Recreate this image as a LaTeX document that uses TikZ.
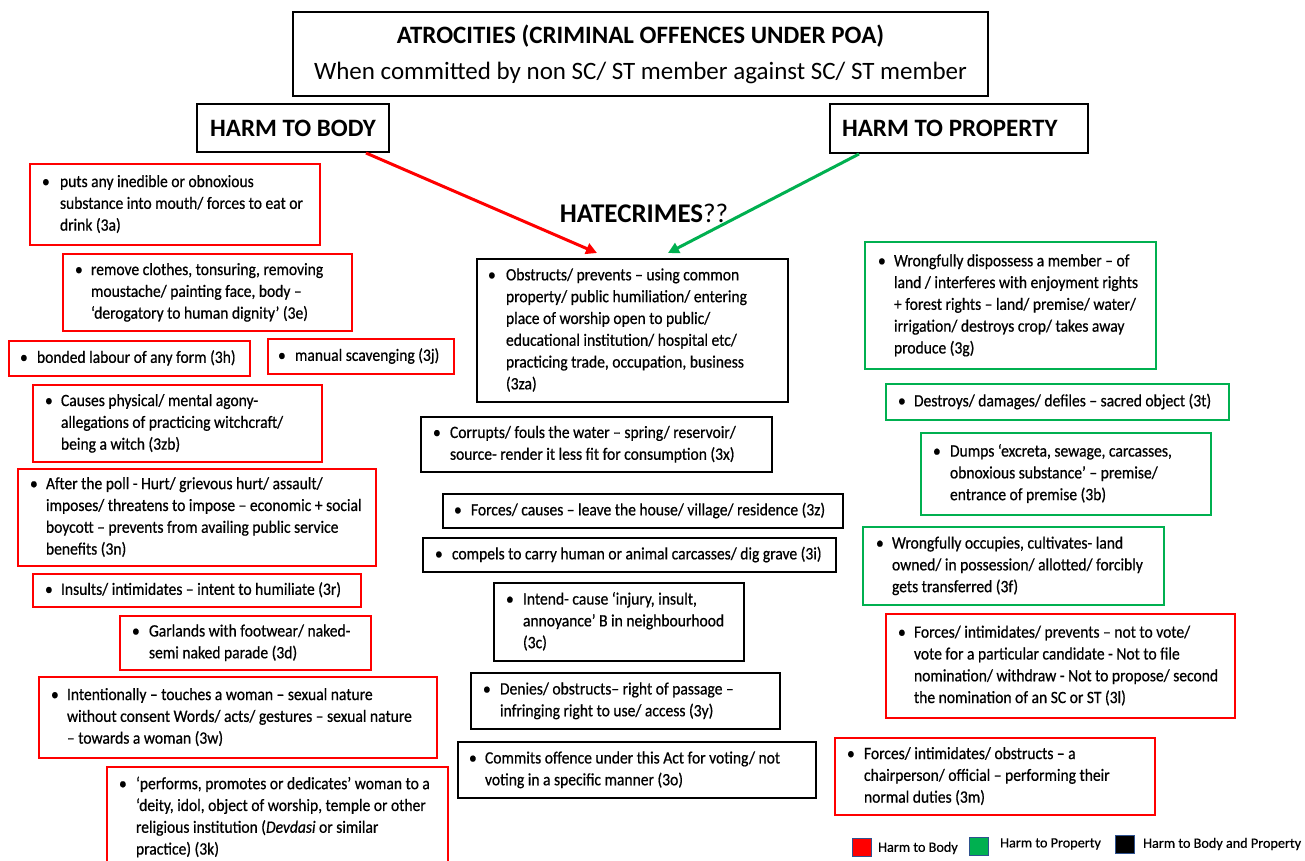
\documentclass[tikz,border=0pt]{standalone}
\usepackage{fontspec}
\setmainfont{Carlito}
\newfontfamily\itemfont{Carlito}[FakeStretch=0.9, FakeBold=0.6]
\newfontfamily\keyfont{Carlito}[FakeBold=0.5]
\usetikzlibrary{arrows.meta}

\definecolor{boxred}{HTML}{FF0000}
\definecolor{boxgreen}{HTML}{00B050}
\definecolor{keyedge}{HTML}{2F528F}

\tikzset{
  offencebox/.style={rectangle, line width=2pt, inner ysep=0pt,
    font=\itemfont\fontsize{17.3}{21.8}\selectfont},
  headbox/.style={rectangle, draw=black, line width=2pt, inner ysep=0pt,
    font=\bfseries\fontsize{25}{30}\selectfont},
  titlebox/.style={rectangle, draw=black, line width=2pt, inner sep=0pt,
    align=center, font=\fontsize{25}{36}\selectfont},
  linkarrow/.style={line width=3pt, -{Triangle[length=11pt,width=11pt]}},
  keysq/.style={rectangle, draw=keyedge, line width=1pt, inner sep=0pt,
    minimum width=19pt, minimum height=18pt},
  keytext/.style={anchor=west, inner sep=0pt, font=\keyfont\fontsize{14.2}{16}\selectfont}
}

% \offence{name}{colour}{x1}{y1}{x2}{y2}{left pad}{bullet hang}{lines}
\newcommand{\offence}[9]{%
  \pgfmathsetmacro{\ow}{#5-#3}%
  \pgfmathsetmacro{\oh}{#6-#4}%
  \pgfmathsetmacro{\ocx}{(#3+#5)/2}%
  \pgfmathsetmacro{\ocy}{(#4+#6)/2}%
  \pgfmathsetmacro{\otw}{#5-#3-2*#7}%
  \node[offencebox, draw=#2, minimum width=\ow pt, minimum height=\oh pt,
        inner xsep=#7pt] (#1) at (\ocx,\ocy)
    {\makebox[\otw pt][l]{\begin{tabular}{@{}p{#8pt}@{}l@{}}\textbullet & #9\end{tabular}}};%
}

\begin{document}
\begin{tikzpicture}[x=1pt, y=-1pt]
\clip (0,0) rectangle (1305,860);
\fill[white] (0,0) rectangle (1305,860);

% headings
\node[titlebox, minimum width=695pt, minimum height=84pt] (title) at (640.5,54)
  {{\bfseries ATROCITIES (CRIMINAL OFFENCES UNDER POA)}\\
   When committed by non SC/ ST member against SC/ ST member};
\node[headbox, minimum width=192pt, minimum height=48pt] (hb) at (293,128) {HARM TO BODY};
\node[headbox, minimum width=258pt, minimum height=49pt, inner xsep=12pt]
  (hp) at (959,128.5) {\makebox[234pt][l]{HARM TO PROPERTY}};
\node[font=\fontsize{27}{30}\selectfont, inner sep=0pt] (hate) at (644,213)
  {\textbf{HATECRIMES}??};

% harm to body
\offence{a3}{boxred}{30}{164}{320}{245}{12}{18}{puts any inedible or obnoxious\\
  & substance into mouth/ forces to eat or\\ & drink (3a)}
\offence{e3}{boxred}{63}{254}{352}{331}{12}{16}{remove clothes, tonsuring, removing\\
  & moustache/ painting face, body –\\ & ‘derogatory to human dignity’ (3e)}
\offence{h3}{boxred}{9}{341}{250}{376}{11}{17}{bonded labour of any form (3h)}
\offence{j3}{boxred}{268}{339}{454}{374}{10}{17}{manual scavenging (3j)}
\offence{zb3}{boxred}{33}{385}{322}{462}{12}{16}{Causes physical/ mental agony-\\
  & allegations of practicing witchcraft/\\ & being a witch (3zb)}
\offence{n3}{boxred}{18}{469}{376}{566}{12}{16}{After the poll - Hurt/ grievous hurt/ assault/\\
  & imposes/ threatens to impose – economic + social\\
  & boycott – prevents from availing public service\\ & benefits (3n)}
\offence{r3}{boxred}{33}{574}{361}{607}{12}{16}{Insults/ intimidates – intent to humiliate (3r)}
\offence{d3}{boxred}{120}{616}{371}{670}{12}{17}{Garlands with footwear/ naked-\\
  & semi naked parade (3d)}
\offence{w3}{boxred}{39}{677}{437}{758}{12}{16}{Intentionally – touches a woman – sexual nature\\
  & without consent Words/ acts/ gestures – sexual nature\\ & – towards a woman (3w)}
\offence{k3}{boxred}{107}{767}{448}{868}{12}{17}{‘performs, promotes or dedicates’ woman to a\\
  & ‘deity, idol, object of worship, temple or other\\
  & religious institution (\textit{Devdasi} or similar\\ & practice) (3k)}

% harm to body and property
\offence{za3}{black}{477}{259}{788}{402}{11}{18}{Obstructs/ prevents – using common\\
  & property/ public humiliation/ entering\\ & place of worship open to public/\\
  & educational institution/ hospital etc/\\ & practicing trade, occupation, business\\ & (3za)}
\offence{x3}{black}{421}{417}{772}{472}{12}{17}{Corrupts/ fouls the water – spring/ reservoir/\\
  & source- render it less fit for consumption (3x)}
\offence{z3}{black}{443}{494}{843}{528}{11}{17}{Forces/ causes – leave the house/ village/ residence (3z)}
\offence{i3}{black}{423}{538}{836}{572}{12}{17}{compels to carry human or animal carcasses/ dig grave (3i)}
\offence{c3}{black}{494}{583}{744}{661}{12}{17}{Intend- cause ‘injury, insult,\\
  & annoyance’ B in neighbourhood\\ & (3c)}
\offence{y3}{black}{471}{673}{780}{729}{12}{17}{Denies/ obstructs– right of passage –\\
  & infringing right to use/ access (3y)}
\offence{o3}{black}{458}{742}{816}{798}{11}{16}{Commits offence under this Act for voting/ not\\
  & voting in a specific manner (3o)}

% harm to property
\offence{g3}{boxgreen}{865}{242}{1156}{369}{13}{16}{Wrongfully dispossess a member – of\\
  & land / interferes with enjoyment rights\\ & + forest rights – land/ premise/ water/\\
  & irrigation/ destroys crop/ takes away\\ & produce (3g)}
\offence{t3}{boxgreen}{886}{384}{1229}{420}{12}{16}{Destroys/ damages/ defiles – sacred object (3t)}
\offence{b3}{boxgreen}{921}{433}{1211}{515}{12}{17}{Dumps ‘excreta, sewage, carcasses,\\
  & obnoxious substance’ – premise/\\ & entrance of premise (3b)}
\offence{f3}{boxgreen}{863}{527}{1164}{605}{13}{16}{Wrongfully occupies, cultivates- land\\
  & owned/ in possession/ allotted/ forcibly\\ & gets transferred (3f)}
\offence{l3}{boxred}{886}{614}{1235}{718}{12}{16}{Forces/ intimidates/ prevents – not to vote/\\
  & vote for a particular candidate - Not to file\\
  & nomination/ withdraw - Not to propose/ second\\ & the nomination of an SC or ST (3l)}
\offence{m3}{boxred}{835}{738}{1155}{815}{12}{17}{Forces/ intimidates/ obstructs – a\\
  & chairperson/ official – performing their\\ & normal duties (3m)}

% links into the shared column
\coordinate (redtip) at (597,253);
\coordinate (greentip) at (668,253);
\draw[linkarrow, boxred] ([xshift=-24pt]hb.south east) -- (redtip);
\draw[linkarrow, boxgreen] ([xshift=30pt]hp.south west) -- (greentip);

% key
\node[keysq, fill=boxred] (kbody) at (862,847) {};
\node[keytext] (kbodyt) at (878,848) {Harm to Body};
\node[keysq, fill=boxgreen] (kprop) at (979,846) {};
\node[keytext] (kpropt) at (1000,844) {Harm to Property};
\node[keysq, fill=black] (kboth) at (1124.5,844.5) {};
\node[keytext] (kbotht) at (1143,844) {Harm to Body and Property};
\end{tikzpicture}
\end{document}
